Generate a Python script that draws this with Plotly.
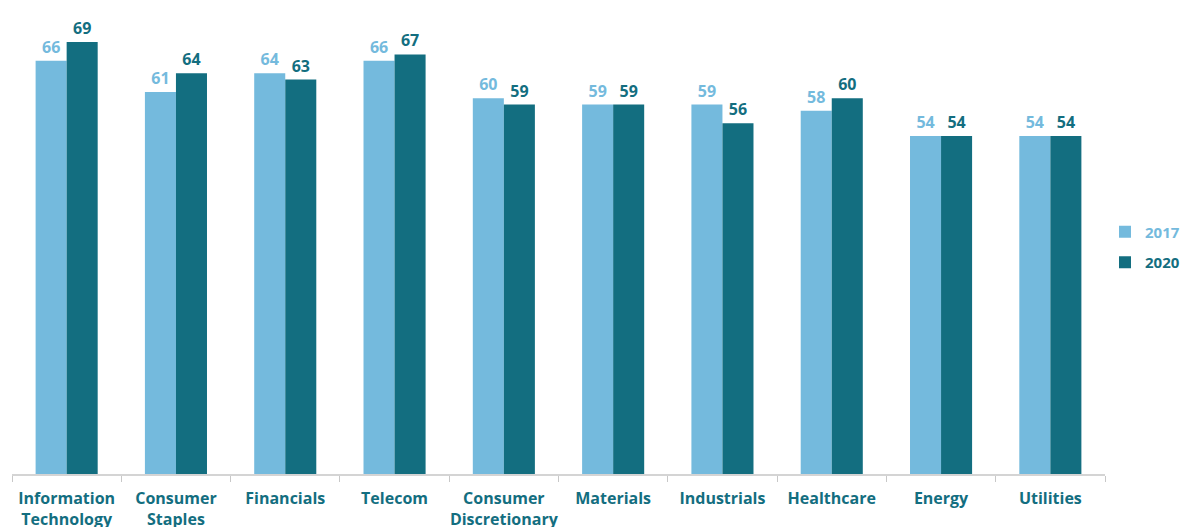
import plotly.graph_objects as go

categories = ["Information<br>Technology", "Consumer<br>Staples", "Financials", "Telecom",
              "Consumer<br>Discretionary", "Materials", "Industrials", "Healthcare", "Energy", "Utilities"]
values_2017 = [66, 61, 64, 66, 60, 59, 59, 58, 54, 54]
values_2020 = [69, 64, 63, 67, 59, 59, 56, 60, 54, 54]
series_names = ["2017", "2020"]

light = "#74BADD"
dark = "#136E80"
font_family = "Open Sans"

fig = go.Figure()
for name, vals, col in [(series_names[0], values_2017, light), (series_names[1], values_2020, dark)]:
    fig.add_trace(go.Bar(name=f"<span style='color:{col}'>{name}</span>", x=categories, y=vals,
                         legendgroup=name,
                         marker=dict(color=col, line=dict(width=0)),
                         text=vals, textposition="outside", cliponaxis=False,
                         textfont=dict(color=col, size=16, family=font_family, weight="bold")))

fig.update_layout(
    width=1182, height=527,
    margin=dict(l=12, r=77, t=0, b=53, autoexpand=False),
    barmode="group", bargap=0.432, bargroupgap=0,
    plot_bgcolor="white", paper_bgcolor="white",
    font=dict(family=font_family),
    showlegend=True,
    legend=dict(x=1.0, y=0.479, xanchor="left", yanchor="middle",
                font=dict(size=15, family=font_family, weight="bold"),
                traceorder="grouped", tracegroupgap=8, itemwidth=30),
)
fig.update_xaxes(showline=True, linecolor="#D4D4D4", linewidth=2, automargin=False, tickangle=0,
                 ticks="outside", tickson="boundaries", ticklen=6, tickcolor="#C8C8C8", tickwidth=1,
                 ticklabelstandoff=9,
                 tickfont=dict(size=16, color=dark, family=font_family, weight="bold"))
fig.update_yaxes(range=[0, 75.7], visible=False, showgrid=False)

fig.write_html("out.html")
